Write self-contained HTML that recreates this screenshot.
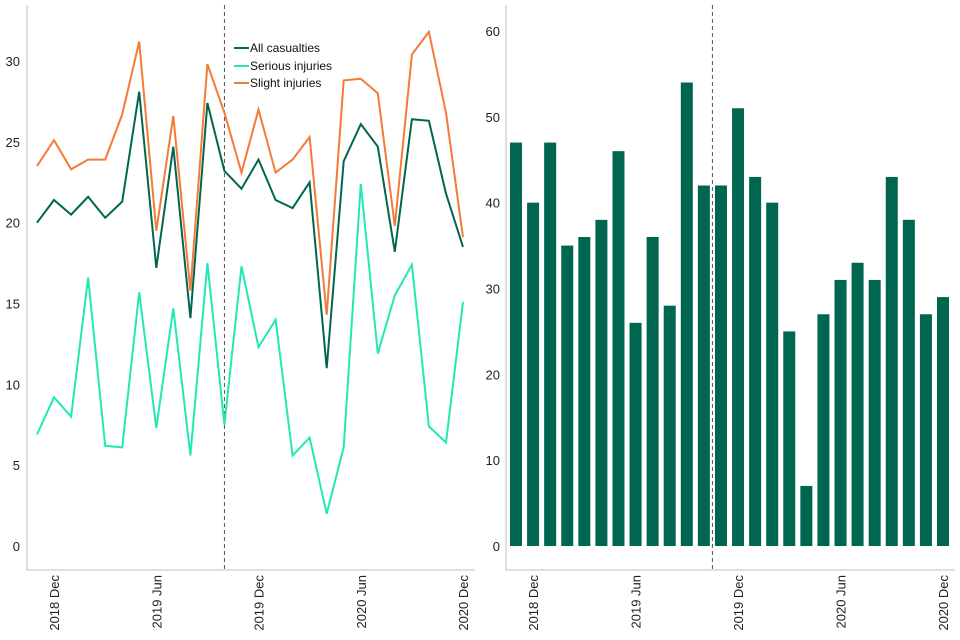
<!DOCTYPE html>
<html><head><meta charset="utf-8"><style>
body{margin:0;background:#fff}
svg{display:block;font-family:"Liberation Sans",Arial,sans-serif}
</style></head><body>
<svg id="c" width="960" height="640"></svg>
<script>
const months = ["Nov 2018","Dec 2018","Jan 2019","Feb 2019","Mar 2019","Apr 2019","May 2019","Jun 2019","Jul 2019","Aug 2019","Sep 2019","Oct 2019","Nov 2019","Dec 2019","Jan 2020","Feb 2020","Mar 2020","Apr 2020","May 2020","Jun 2020","Jul 2020","Aug 2020","Sep 2020","Oct 2020","Nov 2020","Dec 2020"];
const allCasualties = [20.0,21.4,20.5,21.6,20.3,21.3,28.1,17.2,24.7,14.1,27.4,23.2,22.1,23.9,21.4,20.9,22.5,11.0,23.8,26.1,24.7,18.2,26.4,26.3,21.8,18.5];
const seriousInjuries = [6.9,9.2,8.0,16.6,6.2,6.1,15.7,7.3,14.7,5.6,17.5,7.5,17.3,12.3,14.0,5.6,6.7,2.0,6.1,22.4,11.9,15.5,17.4,7.4,6.4,15.1];
const slightInjuries = [23.5,25.1,23.3,23.9,23.9,26.7,31.2,19.5,26.6,15.8,29.8,26.8,23.1,27.0,23.1,23.9,25.3,14.3,28.8,28.9,28.0,19.8,30.4,31.8,26.8,19.1];
const barValues = [47,40,47,35,36,38,46,26,36,28,54,42,42,51,43,40,25,7,27,31,33,31,43,38,27,29];
const leftTicks = [0,5,10,15,20,25,30];
const rightTicks = [0,10,20,30,40,50,60];
const xTickLabels = [["2018","Dec",1],["2019","Jun",7],["2019","Dec",13],["2020","Jun",19],["2020","Dec",25]];
const markerIndex = 11;

const NS="http://www.w3.org/2000/svg";
const svg=document.getElementById('c');
function mk(t,a,p){const e=document.createElementNS(NS,t);for(const k in a)e.setAttribute(k,a[k]);(p||svg).appendChild(e);return e;}
const lx=i=>37+i*(463-37)/25;
const ly=v=>546-v*(546-61)/30;
const rx=i=>516+i*(943-516)/25;
const ry=v=>546-v*(546-31)/60;

// left chart
const gl=mk('g',{});


let a=mk('path',{d:'M27 5V570H475',fill:'none',stroke:'#bfbfbf','stroke-width':1},gl);

leftTicks.forEach(v=>{const t=mk('text',{x:20,y:ly(v)+5,'text-anchor':'end','font-size':13,fill:'#222'},gl);t.textContent=v;
});
let d=mk('line',{x1:lx(markerIndex),x2:lx(markerIndex),y1:5,y2:570,stroke:'#555','stroke-dasharray':'4,3'},gl);

const series=[[slightInjuries,'#f47a38','slight-injuries-line'],[allCasualties,'#006650','all-casualties-line'],[seriousInjuries,'#22e8b4','serious-injuries-line']];
series.forEach(s=>{const p=mk('path',{d:s[0].map((v,i)=>(i?'L':'M')+lx(i).toFixed(1)+' '+ly(v).toFixed(1)).join(''),fill:'none',stroke:s[1],'stroke-width':2},gl);
});
// legend
[['All casualties','#006650',48],['Serious injuries','#22e8b4',66],['Slight injuries','#f47a38',83]].forEach(l=>{
const g=mk('g',{},gl);
mk('line',{x1:234,x2:249,y1:l[2],y2:l[2],stroke:l[1],'stroke-width':2},g);
const t=mk('text',{x:250,y:l[2]+4,'font-size':12,fill:'#111'},g);t.textContent=l[0];});
function xlabels(g,fx){xTickLabels.forEach(x=>{const t=mk('text',{transform:`translate(${fx(x[2])+5},575) rotate(-90)`,'text-anchor':'end','font-size':13,fill:'#222'},g);
t.textContent=x[0]+'  '+x[1];});}
xlabels(gl,lx);

// right chart
const gr=mk('g',{});


a=mk('path',{d:'M506 5V570H955',fill:'none',stroke:'#bfbfbf','stroke-width':1},gr);

rightTicks.forEach(v=>{const t=mk('text',{x:500,y:ry(v)+5,'text-anchor':'end','font-size':13,fill:'#222'},gr);t.textContent=v;
});
barValues.forEach((v,i)=>{const b=mk('rect',{x:rx(i)-6,y:ry(v),width:12,height:ry(0)-ry(v),fill:'#006650'},gr);
});
d=mk('line',{x1:(rx(markerIndex)+rx(markerIndex+1))/2,x2:(rx(markerIndex)+rx(markerIndex+1))/2,y1:5,y2:570,stroke:'#555','stroke-dasharray':'4,3'},gr);

xlabels(gr,rx);
</script>
</body></html>
